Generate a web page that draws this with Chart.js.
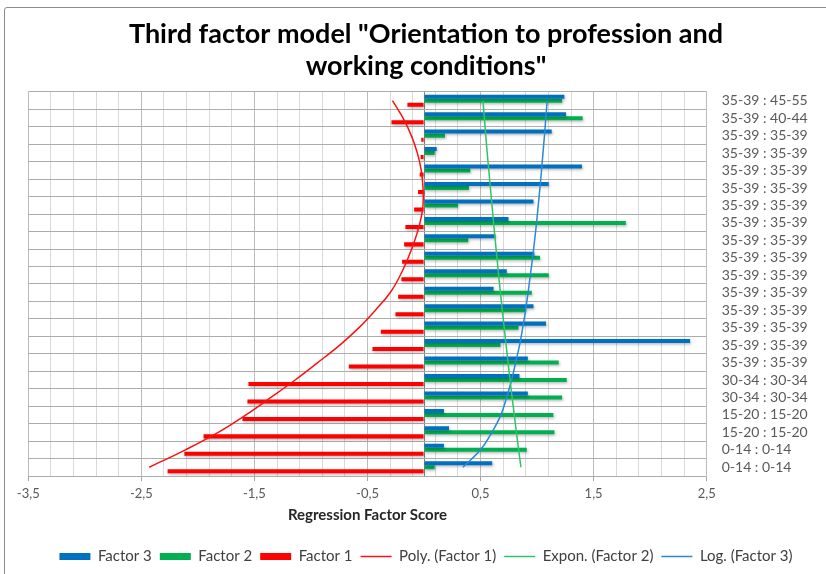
<!DOCTYPE html>
<html>
<head>
<meta charset="utf-8">
<title>Third factor model</title>
<script src="https://cdn.jsdelivr.net/npm/chart.js@4.4.1/dist/chart.umd.min.js"></script>
<style>
    html, body { margin: 0; padding: 0; background: #fff; overflow: hidden; }
    #frame {
        position: absolute; left: 4px; top: 7px;
        width: 842px; height: 600px;
        border: 1px solid #8c8c8c; border-radius: 3px;
        background: #fff;
    }
    #chart { display: block; }
</style>
</head>
<body>
<div id="frame">
    <canvas id="chart" width="842" height="566"></canvas>
</div>
<script>
// categories, top row first
const categories = [
    '35-39 : 45-55', '35-39 : 40-44',
    '35-39 : 35-39', '35-39 : 35-39', '35-39 : 35-39', '35-39 : 35-39', '35-39 : 35-39',
    '35-39 : 35-39', '35-39 : 35-39', '35-39 : 35-39', '35-39 : 35-39', '35-39 : 35-39',
    '35-39 : 35-39', '35-39 : 35-39', '35-39 : 35-39', '35-39 : 35-39',
    '30-34 : 30-34', '30-34 : 30-34', '15-20 : 15-20', '15-20 : 15-20',
    '0-14 : 0-14', '0-14 : 0-14'
];

const factor3 = [1.241, 1.256, 1.129, 0.112, 1.397, 1.103, 0.968, 0.747, 0.632, 0.976, 0.732,
                 0.615, 0.968, 1.079, 2.353, 0.918, 0.844, 0.918, 0.176, 0.221, 0.176, 0.603];
const factor2 = [1.221, 1.403, 0.185, 0.094, 0.409, 0.397, 0.300, 1.785, 0.391, 1.026, 1.103,
                 0.953, 0.903, 0.835, 0.676, 1.191, 1.262, 1.221, 1.144, 1.153, 0.909, 0.094];
const factor1 = [-0.147, -0.288, -0.024, -0.030, -0.038, -0.053, -0.088, -0.165, -0.176, -0.194, -0.200,
                 -0.229, -0.253, -0.382, -0.456, -0.665, -1.553, -1.562, -1.606, -1.950, -2.120, -2.268];

// trend lines, one value per category
const polyFactor1 = [-0.279, -0.185, -0.112, -0.059, -0.024, -0.009, -0.009, -0.036, -0.082, -0.140, -0.210,
                     -0.300, -0.430, -0.575, -0.745, -0.940, -1.140, -1.355, -1.575, -1.820, -2.110, -2.430];
const exponFactor2 = [0.521, 0.534, 0.546, 0.559, 0.573, 0.587, 0.601, 0.615, 0.630, 0.645, 0.660,
                      0.676, 0.692, 0.709, 0.726, 0.743, 0.761, 0.779, 0.798, 0.817, 0.837, 0.857];
const logFactor3 = [1.089, 1.077, 1.065, 1.052, 1.039, 1.025, 1.010, 0.995, 0.978, 0.960, 0.940,
                    0.920, 0.898, 0.873, 0.845, 0.810, 0.775, 0.730, 0.680, 0.600, 0.500, 0.344];

const xMin = -3.5;
const xMax = 2.5;
const xStep = 0.2;

const BLUE = '#0070C0';
const GREEN = '#00B050';
const RED = '#FF0000';

function isMajor(v) {
    const d = v - xMin;
    return Math.abs(d - Math.round(d)) < 1e-6;
}

const barShadow = {
    id: 'barShadow',
    beforeDatasetDraw(chart, args) {
        if (args.meta.type !== 'bar') return;
        const ctx = chart.ctx;
        ctx.save();
        ctx.shadowColor = 'rgba(0,0,0,0.28)';
        ctx.shadowBlur = 3;
        ctx.shadowOffsetX = 1;
        ctx.shadowOffsetY = 1.5;
    },
    afterDatasetDraw(chart, args) {
        if (args.meta.type !== 'bar') return;
        chart.ctx.restore();
    }
};

const lineDefaults = {
    type: 'line',
    yAxisID: 'y',
    pointRadius: 0,
    pointHoverRadius: 0,
    borderWidth: 1.5,
    tension: 0.4,
    fill: false,
    pointStyle: 'line',
    order: -1
};

new Chart(document.getElementById('chart'), {
    type: 'bar',
    data: {
        labels: categories,
        datasets: [
            { label: 'Factor 3', data: factor3, yAxisID: 'y', backgroundColor: BLUE, borderColor: BLUE, borderWidth: 0, pointStyle: 'rect' },
            { label: 'Factor 2', data: factor2, yAxisID: 'y', backgroundColor: GREEN, borderColor: GREEN, borderWidth: 0, pointStyle: 'rect' },
            { label: 'Factor 1', data: factor1, yAxisID: 'y', backgroundColor: RED, borderColor: RED, borderWidth: 0, pointStyle: 'rect' },
            Object.assign({ label: 'Poly. (Factor 1)', data: polyFactor1, borderColor: '#FF1010', backgroundColor: '#FF1010' }, lineDefaults),
            Object.assign({ label: 'Expon. (Factor 2)', data: exponFactor2, borderColor: '#2FC464', backgroundColor: '#2FC464' }, lineDefaults),
            Object.assign({ label: 'Log. (Factor 3)', data: logFactor3, borderColor: '#2A88D6', backgroundColor: '#2A88D6' }, lineDefaults)
        ]
    },
    options: {
        indexAxis: 'y',
        responsive: false,
        animation: false,
        layout: { padding: 0 },
        datasets: {
            bar: { categoryPercentage: 0.69, barPercentage: 1 }
        },
        scales: {
            x: {
                type: 'linear',
                min: xMin,
                max: xMax,
                afterBuildTicks: (scale) => {
                    scale.ticks.push({ value: 0 });
                    scale.ticks.sort((a, b) => a.value - b.value);
                },
                afterFit: (scale) => { scale.height = 65; },
                ticks: {
                    stepSize: xStep,
                    autoSkip: false,
                    maxRotation: 0,
                    padding: 5,
                    color: '#595959',
                    font: { family: 'Lato', size: 13 },
                    callback: (v) => (isMajor(v) && Math.abs(v) > 1e-9) ? v.toFixed(1).replace('.', ',') : ''
                },
                grid: {
                    tickLength: 5,
                    color: (c) => {
                        const v = c.tick.value;
                        if (Math.abs(v) < 1e-9) return '#868686';
                        return isMajor(v) ? '#bcbcbc' : '#d9d9d9';
                    },
                    tickColor: (c) => {
                        const v = c.tick.value;
                        return (isMajor(v) && Math.abs(v) > 1e-9) ? '#a6a6a6' : 'rgba(0,0,0,0)';
                    }
                },
                border: { color: '#acacac' },
                title: {
                    display: true,
                    text: 'Regression Factor Score',
                    color: '#262626',
                    font: { family: 'Lato', size: 15, weight: 'bold' },
                    padding: { top: 0, bottom: 17.3 }
                }
            },
            y: {
                type: 'category',
                position: 'right',
                offset: true,
                afterFit: (scale) => { scale.width = 140.3; },
                ticks: {
                    autoSkip: false,
                    padding: 15,
                    color: '#595959',
                    font: { family: 'Lato', size: 14 }
                },
                grid: { offset: true, drawTicks: false, color: '#acacac' },
                border: { color: '#bcbcbc' }
            },
            // empty strip on the left so the plot starts where the original does
            yPad: {
                type: 'category',
                position: 'left',
                afterFit: (scale) => { scale.width = 23.3; },
                ticks: { display: false },
                grid: { display: false },
                border: { display: false }
            }
        },
        plugins: {
            title: {
                display: true,
                text: ['Third factor model "Orientation to profession and', 'working conditions"'],
                color: '#000',
                font: { family: 'Lato', size: 27, weight: 'bold', lineHeight: 1.185 },
                padding: { top: 10.4, bottom: 9.6 }
            },
            legend: {
                position: 'bottom',
                labels: {
                    usePointStyle: true,
                    pointStyleWidth: 31,
                    boxHeight: 7,
                    padding: 8,
                    color: '#404040',
                    font: { family: 'Lato', size: 15 },
                    sort: (a, b) => a.datasetIndex - b.datasetIndex
                }
            },
            tooltip: { enabled: false }
        }
    },
    plugins: [barShadow]
});
</script>
</body>
</html>
